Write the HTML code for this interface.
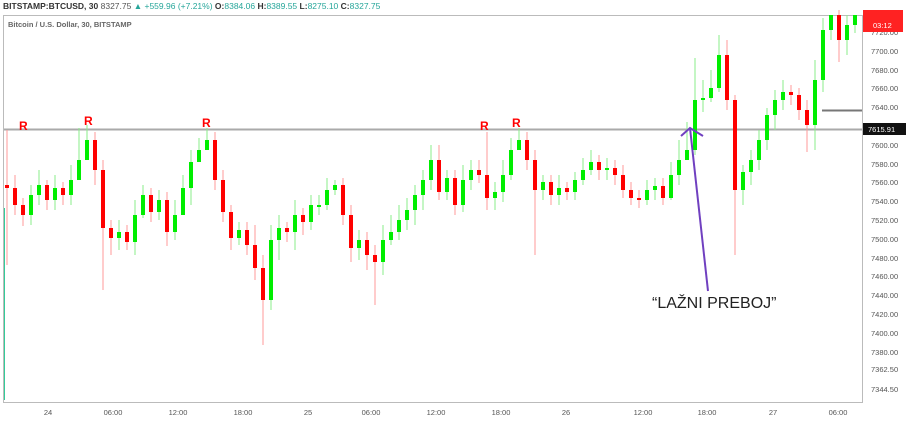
<!DOCTYPE html>
<html><head><meta charset="utf-8"><style>
html,body{margin:0;padding:0;background:#fff;width:906px;height:426px;overflow:hidden;font-family:"Liberation Sans",sans-serif}
</style></head><body>
<svg width="906" height="426" xmlns="http://www.w3.org/2000/svg" style="position:absolute;left:0;top:0">
<rect width="906" height="426" fill="#fff"/>
<text x="3" y="9" font-size="8.5" font-weight="bold" fill="#333">BITSTAMP:BTCUSD, 30 <tspan font-weight="normal" fill="#555">8327.75</tspan> <tspan fill="#26a69a" font-weight="normal">▲ +559.96 (+7.21%)</tspan> O:<tspan fill="#26a69a" font-weight="normal">8384.06</tspan> H:<tspan fill="#26a69a" font-weight="normal">8389.55</tspan> L:<tspan fill="#26a69a" font-weight="normal">8275.10</tspan> C:<tspan fill="#26a69a" font-weight="normal">8327.75</tspan></text>
<rect x="3.5" y="15.5" width="859" height="387" fill="none" stroke="#bbb"/>
<text x="8" y="27" font-size="7.5" font-weight="bold" fill="#666">Bitcoin / U.S. Dollar, 30, BITSTAMP</text>
<line x1="4" y1="129.5" x2="862" y2="129.5" stroke="#aaa" stroke-width="2"/>
<line x1="822" y1="110.5" x2="862" y2="110.5" stroke="#777" stroke-width="2"/>
<line x1="4.5" y1="208" x2="4.5" y2="400" stroke="#3c9"/>

<!-- wicks red -->
<path stroke="#f99" stroke-width="1" fill="none" d="M7 130V265M15 175V215M23 198V226M47 180V210M63 182V205M95 132V185M103 160V290M111 220V255M127 225V250M151 188V222M167 192V246M215 132V190M223 170V222M231 205V250M247 222V255M255 225V280M263 255V345M287 222V242M303 208V235M343 178V225M351 205V262M367 232V270M375 245V305M439 145V200M455 170V215M479 160V183M487 132V210M527 132V170M535 150V255M551 175V205M567 182V200M599 155V180M615 160V185M623 165V198M631 182V205M639 190V208M663 178V205M727 40V110M735 95V255M791 85V105M799 88V120M807 100V152M839 10V62"/>
<!-- wicks green -->
<path stroke="#8e8" stroke-width="1" fill="none" d="M31 185V225M39 170V205M55 175V210M71 165V205M79 128V175M87 125V150M119 220V250M135 200V255M143 185V218M159 190V220M175 200V240M183 175V200M191 150V205M199 138V160M207 128V150M239 222V245M271 225V310M279 215V260M295 200V250M311 195V230M319 195V215M327 178V210M335 180V195M359 230V260M383 225V275M391 215V245M399 205V240M407 198V230M415 185V225M423 170V210M431 145V190M447 170V200M463 165V212M471 160V190M495 182V210M503 160V202M511 138V180M519 128V150M543 175V200M559 175V205M575 172V200M583 158V185M591 150V175M607 158V180M647 180V205M655 178V200M671 162V200M679 140V185M687 122V158M695 58V155M703 80V112M711 70V102M719 35V92M743 165V205M751 150V185M759 130V170M767 108V150M775 90V130M783 80V110M815 60V150M823 18V92M831 15V40M847 15V55M855 15V33"/>
<!-- red bodies -->
<path stroke="#f00" stroke-width="4" fill="none" d="M7 185V188M15 188V205M23 205V215M47 185V200M63 188V195M95 140V170M103 170V228M111 228V238M127 232V242M151 195V212M167 200V232M215 140V180M223 180V212M231 212V238M247 230V245M255 245V268M263 268V300M287 228V232M303 215V222M343 185V215M351 215V248M367 240V255M375 255V262M439 160V192M455 178V205M479 170V175M487 175V198M527 140V160M535 160V190M551 182V195M567 188V192M599 162V170M615 168V175M623 175V190M631 190V198M639 198V200M663 186V198M727 55V100M735 100V190M791 92V95M799 95V110M807 110V125M839 15V40"/>
<!-- green bodies -->
<path stroke="#0e0" stroke-width="4" fill="none" d="M31 195V215M39 185V195M55 188V200M71 180V195M79 160V180M87 140V160M119 232V238M135 215V242M143 195V215M159 200V212M175 215V232M183 188V215M191 162V188M199 150V162M207 140V150M239 230V238M271 240V300M279 228V240M295 215V232M311 205V222M319 205V207M327 190V205M335 185V190M359 240V248M383 240V262M391 232V240M399 220V232M407 210V220M415 195V210M423 180V195M431 160V180M447 178V192M463 180V205M471 170V180M495 192V198M503 175V192M511 150V175M519 140V150M543 182V190M559 188V195M575 180V192M583 170V180M591 162V170M607 168V170M647 190V200M655 186V190M671 175V198M679 160V175M687 150V160M695 100V150M703 98V100M711 88V98M719 55V88M743 172V190M751 160V172M759 140V160M767 115V140M775 100V115M783 92V100M815 80V125M823 30V80M831 15V30M847 25V40M855 15V25"/>

<g font-size="7.5" fill="#555">
<text x="871" y="35">7720.00</text><text x="871" y="54">7700.00</text><text x="871" y="73">7680.00</text><text x="871" y="91">7660.00</text><text x="871" y="110">7640.00</text><text x="871" y="148">7600.00</text><text x="871" y="167">7580.00</text><text x="871" y="185">7560.00</text><text x="871" y="204">7540.00</text><text x="871" y="223">7520.00</text><text x="871" y="242">7500.00</text><text x="871" y="261">7480.00</text><text x="871" y="279">7460.00</text><text x="871" y="298">7440.00</text><text x="871" y="317">7420.00</text><text x="871" y="336">7400.00</text><text x="871" y="355">7380.00</text><text x="871" y="372">7362.50</text><text x="871" y="392">7344.50</text>
<g text-anchor="middle">
<text x="48" y="415">24</text><text x="113" y="415">06:00</text><text x="178" y="415">12:00</text><text x="243" y="415">18:00</text><text x="308" y="415">25</text><text x="371" y="415">06:00</text><text x="436" y="415">12:00</text><text x="501" y="415">18:00</text><text x="566" y="415">26</text><text x="643" y="415">12:00</text><text x="707" y="415">18:00</text><text x="773" y="415">27</text><text x="838" y="415">06:00</text>
</g></g>
<g font-size="12" font-weight="bold" fill="#f00">
<text x="19" y="130">R</text><text x="84" y="125">R</text><text x="202" y="127">R</text><text x="480" y="130">R</text><text x="512" y="127">R</text>
</g>
<line x1="708" y1="291" x2="690" y2="128" stroke="#7040c0" stroke-width="2"/>
<polyline points="681,136 690,128 703,136" fill="none" stroke="#7040c0" stroke-width="2"/>
<text x="652" y="308" font-size="16" fill="#222">“LAŽNI PREBOJ”</text>
<rect x="863" y="123" width="43" height="12" fill="#111"/>
<text x="868" y="132" font-size="7.5" fill="#fff">7615.91</text>
<rect x="863" y="10" width="40" height="22" fill="#f22"/>
<text x="873" y="28" font-size="7.5" fill="#fff">03:12</text>
</svg>
</body></html>
